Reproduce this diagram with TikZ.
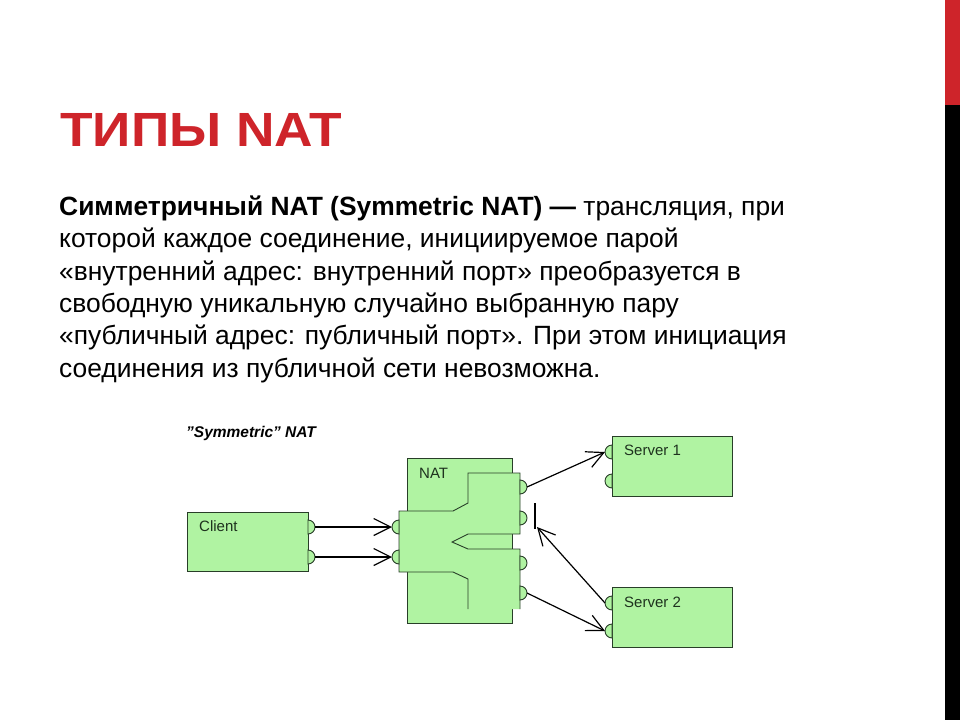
\documentclass[tikz,border=0pt]{standalone}
\usepackage{fontspec}
\setmainfont{Liberation Sans}
\usetikzlibrary{arrows.meta}
\definecolor{titlered}{RGB}{206,36,42}
\definecolor{boxgreen}{RGB}{176,243,162}
\definecolor{boxline}{RGB}{40,62,40}
\definecolor{lbltext}{RGB}{30,50,30}
\tikzset{
  boxshape/.style={draw=boxline, fill=boxgreen, line width=0.9pt, inner sep=0pt, anchor=north west},
  lbl/.style={anchor=base west, inner sep=0pt, text=lbltext, font=\fontsize{15}{18}\selectfont},
  bodyline/.style={anchor=base west, inner sep=0pt, font=\fontsize{26.4}{32}\selectfont},
  portR/.style={draw=boxline, fill=boxgreen, line width=0.9pt},
  arr/.style={-{Straight Barb[length=17pt,width=17pt,line width=1.2pt]}, line width=1.2pt, black},
}
\begin{document}
\begin{tikzpicture}[x=1pt,y=-1pt]
\useasboundingbox (0,0) rectangle (960,720);
\fill[white] (0,0) rectangle (960,720);
% side bar
\fill[titlered] (945,0) rectangle (960,105);
\fill[black] (945,105) rectangle (960,720);
% title
\node[anchor=base west, inner sep=0pt, xscale=1.11, text=titlered, font=\fontsize{48}{55}\selectfont\bfseries] (title) at (60,146.5) {ТИПЫ NAT};
% body
\node[bodyline] (l1) at (59,215.5) {\textbf{Симметричный NAT (Symmetric NAT) —} трансляция, при};
\node[bodyline] (l2) at (59,247.8) {которой каждое соединение, инициируемое парой};
\node[bodyline] (l3) at (59,280.1) {«внутренний адрес: внутренний порт» преобразуется в};
\node[bodyline] (l4) at (59,312.4) {свободную уникальную случайно выбранную пару};
\node[bodyline] (l5) at (59,344.7) {«публичный адрес: публичный порт». При этом инициация};
\node[bodyline] (l6) at (59,377) {соединения из публичной сети невозможна.};
% diagram caption
\node[anchor=base west, inner sep=0pt, font=\fontsize{15.5}{18}\selectfont\bfseries\itshape] (cap) at (186,437) {\char"22 Symmetric\char"22{} NAT};
% boxes
\node[boxshape, minimum width=121pt, minimum height=59pt] (client) at (187,512) {};
\node[boxshape, minimum width=105pt, minimum height=165pt] (nat) at (407,458) {};
\node[boxshape, minimum width=120pt, minimum height=60pt] (srv1) at (612,436) {};
\node[boxshape, minimum width=120pt, minimum height=60pt] (srv2) at (612,587) {};
% inner NAT shape
\fill[boxgreen] (399,511) -- (453,511) -- (468,503) -- (468,473) -- (520,473) -- (520,534) -- (468,534) -- (452,542) -- (468,549) -- (520,549) -- (520,609) -- (468,609) -- (468,579) -- (453,572) -- (399,572) -- cycle;
\draw[boxline, line width=0.9pt] (468,609) -- (468,579) -- (453,572) -- (399,572) -- (399,511) -- (453,511) -- (468,503) -- (468,473) -- (520,473) -- (520,534) -- (468,534) -- (452,542) -- (468,549) -- (520,549) -- (520,609);
% labels
\node[lbl] (clientlbl) at (199,531) {Client};
\node[lbl] (natlbl) at (419,478) {NAT};
\node[lbl] (s1lbl) at (624,455) {Server 1};
\node[lbl] (s2lbl) at (624,607) {Server 2};
% ports: right bumps
\foreach \x/\y in {308/527, 308/557, 520/487, 520/518, 520/563, 520/593}
  \draw[portR] (\x,\y-7) arc[start angle=90, end angle=-90, radius=7pt] -- cycle;
% ports: left bumps
\foreach \x/\y in {399/527, 399/557, 612/452, 612/481, 612/603, 612/631}
  \draw[portR] (\x,\y-7) arc[start angle=90, end angle=270, radius=7pt] -- cycle;
% port tips
\coordinate (cp1) at (315,527);
\coordinate (cp2) at (315,557);
\coordinate (ni1) at (392,527);
\coordinate (ni2) at (392,557);
\coordinate (no1) at (527,487);
\coordinate (no4) at (527,593);
\coordinate (s1p) at (605,452);
\coordinate (s2p1) at (605,603);
\coordinate (s2p2) at (605,631);
\coordinate (blocktip) at (537,527);
\coordinate (blocktop) at (535,503);
\coordinate (blockbot) at (535,529);
% connectors
\draw[arr] (cp1) -- (ni1);
\draw[arr, line width=1.7pt] (cp2) -- (ni2);
\draw[arr] (no1) -- (s1p);
\draw[arr] (s2p1) -- (blocktip);
\draw[black, line width=1.2pt] (blocktop) -- (blockbot);
\draw[arr] (no4) -- (s2p2);
\end{tikzpicture}
\end{document}
